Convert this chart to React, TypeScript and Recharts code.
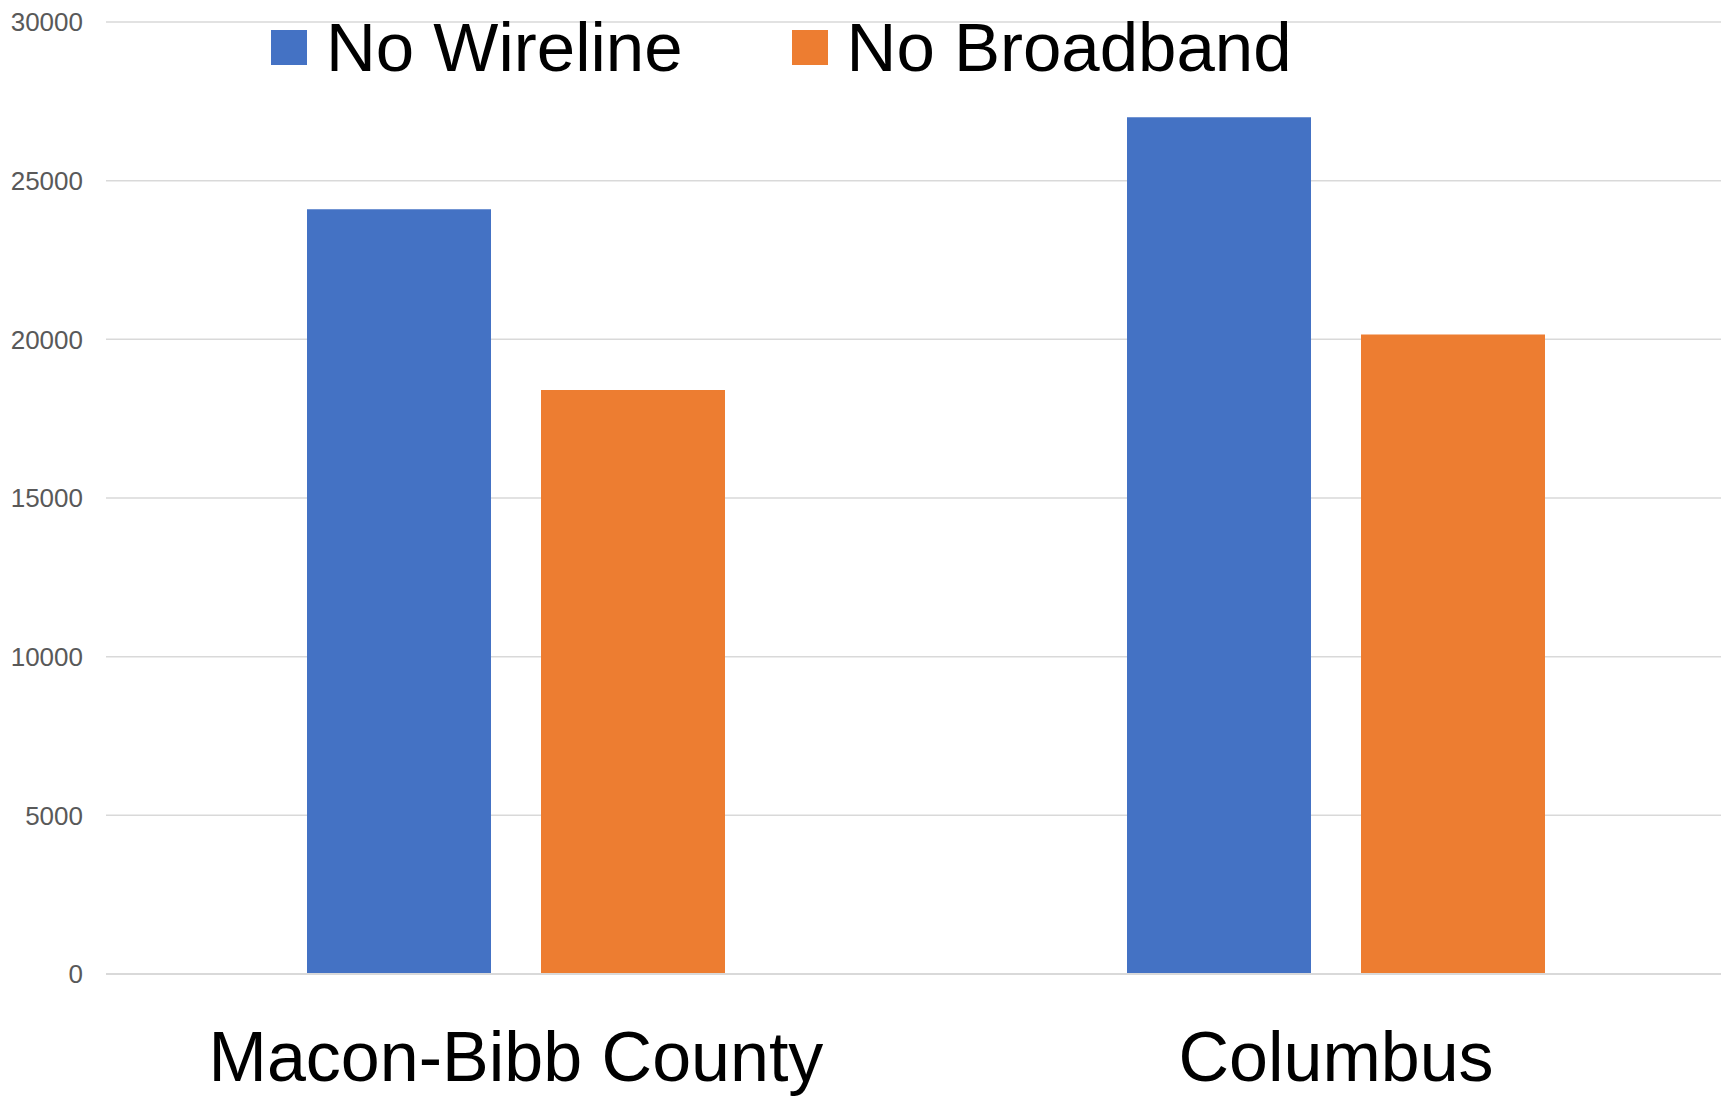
import { BarChart, Bar, XAxis, YAxis, CartesianGrid, Legend } from 'recharts';

const categories = ['Macon-Bibb County', 'Columbus'];
const noWireline = [24100, 27000];
const noBroadband = [18400, 20150];
const yTicks = [0, 5000, 10000, 15000, 20000, 25000, 30000];
const seriesOrder = ['wireline', 'broadband'];

const data = categories.map((name, i) => ({
  name,
  wireline: noWireline[i],
  broadband: noBroadband[i]
}));

const FONT = '"Liberation Sans", Arial, sans-serif';

const renderLegend = (props: any) => {
  const payload = [...(props.payload || [])].sort(
    (a: any, b: any) => seriesOrder.indexOf(a.dataKey) - seriesOrder.indexOf(b.dataKey)
  );
  return (
    <div style={{ display: 'flex', alignItems: 'center', fontFamily: FONT, fontSize: 69, lineHeight: '77px', color: '#000' }}>
      {payload.map((entry: any, index: number) => (
        <div key={`item-${index}`} style={{ display: 'flex', alignItems: 'center', marginRight: index === 0 ? 109 : 0 }}>
          <span style={{ display: 'inline-block', width: 36, height: 35, background: entry.color, marginRight: 19 }} />
          <span style={{ whiteSpace: 'nowrap' }}>{entry.value}</span>
        </div>
      ))}
    </div>
  );
};

export default function App() {
  return (
    <div style={{ position: 'absolute', left: 0, top: 0, width: 1721, height: 1103, overflow: 'hidden', background: '#fff' }}>
      <BarChart
        width={1746}
        height={1103}
        data={data}
        margin={{ top: 22, right: 0, left: 0, bottom: 0 }}
        barSize={184}
        barGap={50}
      >
        <CartesianGrid vertical={false} stroke="#d9d9d9" strokeWidth={1.5} />
        <XAxis
          dataKey="name"
          height={129}
          tickLine={false}
          axisLine={{ stroke: '#d9d9d9', strokeWidth: 2 }}
          tickMargin={51}
          tick={{ fontSize: 70, fill: '#000', fontFamily: FONT }}
        />
        <YAxis
          width={106}
          domain={[0, 30000]}
          ticks={yTicks}
          tickLine={false}
          axisLine={false}
          tickMargin={17}
          tick={{ fontSize: 26, fill: '#595959', fontFamily: FONT }}
        />
        <Legend
          layout="vertical"
          align="center"
          verticalAlign="middle"
          content={renderLegend}
          wrapperStyle={{ top: 9, left: 271, width: 'auto' }}
        />
        <Bar dataKey="wireline" name="No Wireline" fill="#4472C4" isAnimationActive={false} />
        <Bar dataKey="broadband" name="No Broadband" fill="#ED7D31" isAnimationActive={false} />
      </BarChart>
    </div>
  );
}
